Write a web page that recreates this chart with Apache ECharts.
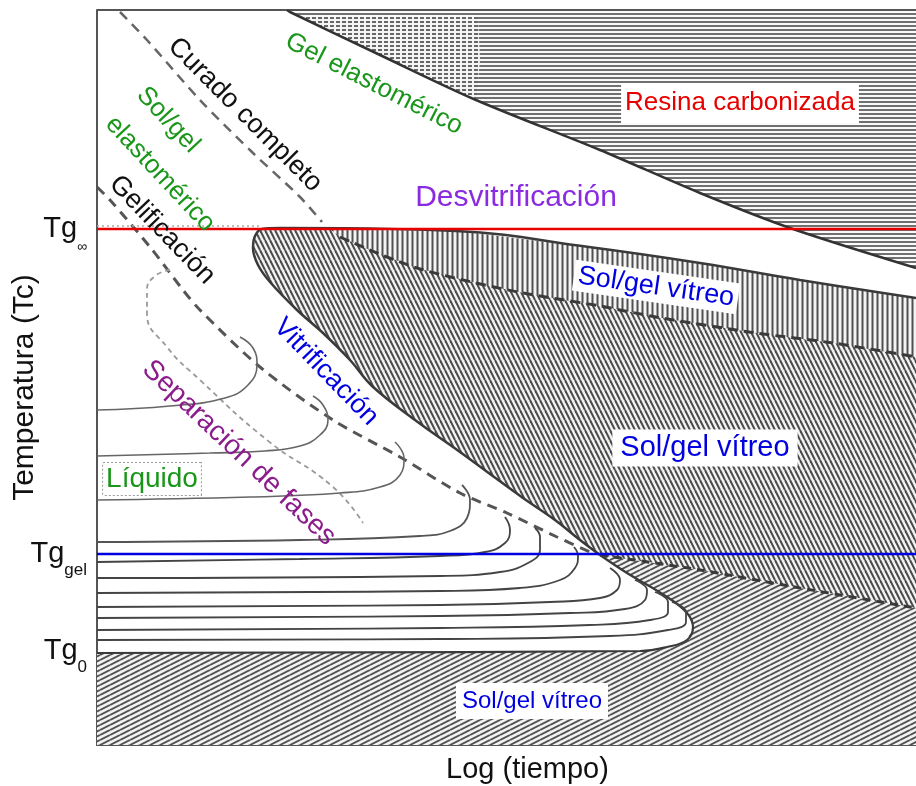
<!DOCTYPE html>
<html><head><meta charset="utf-8">
<script src="https://cdn.jsdelivr.net/npm/echarts@6/dist/echarts.min.js"></script>
<style>html,body{margin:0;padding:0;background:#fff}#c{width:916px;height:786px}</style>
</head><body><div id="c"></div><script>
// ---- axes (arbitrary units: log time / temperature) ----
const xRange = [0, 819];
const yRange = [0, 735];
const tgTicks = [94, 191, 516];
const tgSubs = ['0', 'gel', '∞'];
const tgInf = 516, tgGel = 191;

// ---- region boundaries ----
const carbonEdge = [[190,735],[193,733],[283,690],[379,645],[503,595],[603,552],[693,517],[819,477]];
const carbonCross = [[203,728],[283,690],[379,645],[383,685],[381,728]];
const vitrification = [[165,516],[158,509],[156,497],[161,480],[173,463],[200,435],[226,412],[253,385],[275,359],[318,325],[363,293],[393,271],[426,247],[458,225],[483,205],[503,190]];
const glassTop = [[165,516],[183,517],[359,514],[492,498],[603,482],[703,465],[819,447]];
const upperDash = [[243,508],[280,492],[320,477],[366,465],[426,452],[503,439],[559,428],[659,412],[736,402],[819,388]];
const lowerDash = [[503,190],[603,175],[703,157],[819,137]];
const outerBoundary = [[503,190],[530,172],[570,148],[590,132],[596,118],[590,105],[570,98],[543,94],[0,92]];
const gelation = [[0,558],[13,545],[53,498],[86,455],[103,435],[163,378],[236,325],[303,288],[363,252],[410,232],[460,208],[493,193]];
const fullCure = [[23,733],[50,705],[103,645],[156,592],[203,548],[225,523]];
const phaseSep = [[73,475],[58,469],[50,455],[50,432],[70,398],[103,365],[170,305],[236,258],[266,222]];
const tgInfDots = [[0,519],[165,519]];

// ---- iso-conversion contours ----
const hook1 = [[0,335],[73,339],[128,347],[151,360],[160,380],[156,397],[143,408]];
const hook2 = [[0,289],[113,292],[168,294],[203,299],[223,310],[231,325],[226,340],[216,349]];
const hook3 = [[0,245],[153,248],[243,252],[283,258],[303,270],[307,287],[298,303]];
const hook4 = [[0,203],[203,205],[323,209],[353,214],[370,227],[373,245],[365,260]];
const hook5 = [[0,183],[203,186],[343,189],[388,193],[408,202],[413,215],[408,228]];
const hook6 = [[0,167],[343,169],[403,173],[431,182],[443,195],[443,208],[438,217]];
const hook7 = [[0,152],[343,154],[423,157],[463,165],[478,177],[481,189],[477,198]];
const hook8 = [[0,138],[343,140],[453,143],[503,147],[520,155],[523,165],[513,177]];
const hook9 = [[0,127],[343,129],[473,132],[528,136],[548,145],[550,155],[538,165]];
const hook10 = [[0,115],[343,117],[493,120],[553,125],[571,133],[571,143],[558,153]];
const hook11 = [[0,105],[343,106],[513,109],[571,115],[589,123],[589,133],[575,143]];

// ---- annotations ----
const labelTexts = ['Curado completo','Gel elastomérico','Sol/gel','elastomérico','Gelificación','Desvitrificación','Resina carbonizada','Sol/gel vítreo','Vitrificación','Separación de fases','Sol/gel vítreo','Sol/gel vítreo','Líquido'];
const labelAnchors = [[148,630],[277,661],[71,625],[63,571],[65,515],[419,547],[643,642],[559,458],[229,373],[142,292],[608,297],[435,44],[55,266]];

const GREEN='#1a961a', BLUE='#0000e0', RED='#e60000', BLACK='#111';
const labelStyles = [
  {rot:-45,color:BLACK,size:27},
  {rot:-27,color:GREEN,size:26},
  {rot:-47,color:GREEN,size:26},
  {rot:-47,color:GREEN,size:26},
  {rot:-46,color:BLACK,size:27},
  {rot:0,color:'#8a2be2',size:30},
  {rot:0,color:RED,size:26,bg:'#fff',pad:[7,4]},
  {rot:-8.2,color:BLUE,size:27,bg:'#fff',pad:[2,4]},
  {rot:-46,color:BLUE,size:27},
  {rot:-43.5,color:'#8b1c8b',size:28},
  {rot:0,color:BLUE,size:29,bg:'#fff',pad:[4,8]},
  {rot:0,color:BLUE,size:24,bg:'#fff',pad:[6,6]},
  {rot:0,color:GREEN,size:28,bg:'#fff',pad:[2,3],border:'#999'}
];

const FONT = '"Liberation Sans", Arial, Helvetica, sans-serif';

function makePattern(w, h, draw) {
  const c = document.createElement('canvas'); c.width = w; c.height = h;
  const g = c.getContext('2d'); draw(g, w, h);
  return {image: c, repeat: 'repeat'};
}
const patHoriz = makePattern(8, 4, g => { g.fillStyle='#fafafa'; g.fillRect(0,0,8,4); g.fillStyle='#707070'; g.fillRect(0,1,8,2); });
const patCross = makePattern(6, 4, g => { g.fillStyle='#f4f4f4'; g.fillRect(0,0,6,4); g.fillStyle='#666'; g.fillRect(0,1,4,2); });
const patBack = makePattern(5, 10, g => { g.fillStyle='#f2f2f2'; g.fillRect(0,0,5,10); g.strokeStyle='#4a4a4a'; g.lineWidth=2; for (const c of [-5,0,5]) { g.beginPath(); g.moveTo(c,0); g.lineTo(c+5,10); g.stroke(); } });
const patFwd = makePattern(10, 5, g => { g.fillStyle='#f2f2f2'; g.fillRect(0,0,10,5); g.strokeStyle='#505050'; g.lineWidth=1.9; for (const c of [0,5,10]) { g.beginPath(); g.moveTo(0,c); g.lineTo(10,c-5); g.stroke(); } });
const patVert = makePattern(5, 4, g => { g.fillStyle='#f4f4f4'; g.fillRect(0,0,5,4); g.fillStyle='#505050'; g.fillRect(1.5,0,2,4); });

const carbonPoly = carbonEdge.concat([[819,735]]);
const glassPoly = vitrification.concat(lowerDash.slice(1), glassTop.slice().reverse());
const vertPoly = [[233,516]].concat(glassTop.filter(p => p[0] > 233), upperDash.slice().reverse());
const bottomPoly = outerBoundary.concat([[0,0],[819,0]], lowerDash.slice().reverse());
const glassOutline = glassTop.slice().reverse().concat(vitrification.slice(1));

function polySeries(points, fill, z) {
  return {type:'custom', coordinateSystem:'cartesian2d', silent:true, z:z, data:[[0,0]],
    renderItem: (params, api) => ({type:'polygon', shape:{points: points.map(p => api.coord(p))}, style:{fill: fill}})};
}
function lineSeries(data, color, width, type, smooth, z) {
  return {type:'line', data:data, symbol:'none', smooth: smooth, silent:true, z: z || 2,
    lineStyle:{color:color, width:width, type:type || 'solid', cap:'butt'}};
}

const series = [
  polySeries(carbonPoly, patHoriz, 1),
  polySeries(carbonCross, patCross, 1),
  polySeries(glassPoly, patBack, 1),
  polySeries(vertPoly, patVert, 1),
  polySeries(bottomPoly, patFwd, 1),
  lineSeries([[0,735],[819,735]], '#555', 2, 'solid', false),
  lineSeries(carbonEdge, '#333', 2.5, 'solid', 0.3),
  lineSeries(glassOutline, '#3a3a3a', 2.5, 'solid', 0.4),
  lineSeries(outerBoundary, '#3a3a3a', 2.2, 'solid', 0.4),
  lineSeries(upperDash, '#3a3a3a', 3, [10,6], 0.3),
  lineSeries(lowerDash, '#3a3a3a', 3, [8,6], 0.3),
  lineSeries(gelation, '#555', 3, [10,7], 0.3),
  lineSeries(fullCure, '#666', 2.5, [10,7], 0.3),
  lineSeries(phaseSep, '#9a9a9a', 1.8, [5,4], 0.5),
  lineSeries(tgInfDots, '#aaa', 1.5, [2,3], false),
  lineSeries(hook1, '#666', 1.6, 'solid', 0.45),
  lineSeries(hook2, '#666', 1.6, 'solid', 0.45),
  lineSeries(hook3, '#666', 1.6, 'solid', 0.45),
  lineSeries(hook4, '#555', 1.8, 'solid', 0.45),
  lineSeries(hook5, '#444', 1.8, 'solid', 0.45),
  lineSeries(hook6, '#444', 1.8, 'solid', 0.45),
  lineSeries(hook7, '#444', 1.8, 'solid', 0.45),
  lineSeries(hook8, '#444', 1.8, 'solid', 0.45),
  lineSeries(hook9, '#444', 1.8, 'solid', 0.45),
  lineSeries(hook10, '#444', 1.8, 'solid', 0.45),
  lineSeries(hook11, '#444', 1.8, 'solid', 0.45),
  lineSeries([[0,tgInf],[819,tgInf]], RED, 2.5, 'solid', false, 3),
  lineSeries([[0,tgGel],[819,tgGel]], BLUE, 2.5, 'solid', false, 3),
  {type:'custom', coordinateSystem:'cartesian2d', silent:true, z:4, data: labelAnchors,
    renderItem: (params, api) => {
      const i = params.dataIndex, s = labelStyles[i];
      const p = api.coord(labelAnchors[i]);
      const style = {text: labelTexts[i], fill: s.color, font: s.size + 'px ' + FONT, align:'center', verticalAlign:'middle'};
      if (s.bg) { style.backgroundColor = s.bg; style.padding = s.pad; }
      if (s.border) { style.borderColor = s.border; style.borderWidth = 1; style.borderDash = [2,2]; }
      return {type:'text', x:p[0], y:p[1], rotation: s.rot * Math.PI / 180, style: style};
    }}
];

const chart = echarts.init(document.getElementById('c'), null, {renderer:'canvas'});
chart.setOption({
  animation:false,
  backgroundColor:'#fff',
  textStyle:{fontFamily: FONT},
  grid:{left:97, right:0, top:10, bottom:41, containLabel:false, outerBoundsMode:'none'},
  xAxis:{type:'value', min:xRange[0], max:xRange[1],
    name:'Log (tiempo)', nameLocation:'middle', nameGap:10, nameMoveOverlap:false,
    nameTextStyle:{fontSize:29, color:BLACK, fontFamily:FONT, padding:[0,0,0,42]},
    axisLine:{show:true, onZero:false, lineStyle:{color:'#555', width:2}},
    axisTick:{show:false}, axisLabel:{show:false}, splitLine:{show:false}},
  yAxis:{type:'value', min:yRange[0], max:yRange[1],
    name:'Temperatura (Tc)', nameLocation:'middle', nameGap:57, nameMoveOverlap:false,
    nameTextStyle:{fontSize:30, color:BLACK, fontFamily:FONT, padding:[0,20,0,0]},
    axisLine:{show:true, onZero:false, lineStyle:{color:'#555', width:2}},
    axisTick:{show:false}, splitLine:{show:false},
    axisLabel:{show:true, customValues: tgTicks, margin:10, color:BLACK,
      formatter: v => { const i = tgTicks.indexOf(v); const sub = tgSubs[i]; return '{t|Tg}' + (sub === '∞' ? '{i|∞}' : '{s|' + sub + '}'); },
      rich:{
        t:{fontSize:29, lineHeight:50, fontFamily:FONT, color:BLACK},
        s:{fontSize:17, lineHeight:20, verticalAlign:'bottom', fontFamily:FONT, color:BLACK},
        i:{fontSize:14, lineHeight:18, verticalAlign:'bottom', fontFamily:FONT, color:BLACK}
      }}},
  series: series
});
</script></body></html>
